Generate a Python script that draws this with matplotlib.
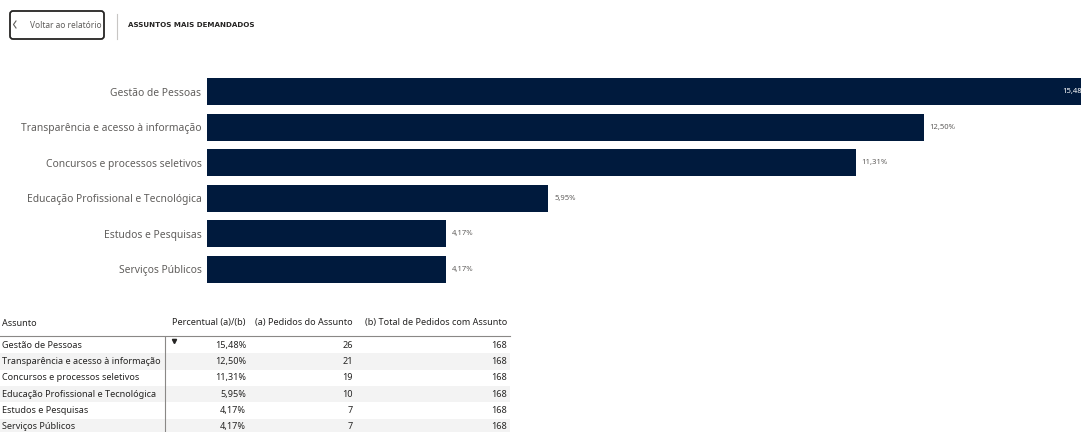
import matplotlib.pyplot as plt
from matplotlib.patches import FancyBboxPatch, Rectangle

plt.rcParams['font.family'] = ['Noto Sans', 'DejaVu Sans']

assuntos = ["Gestão de Pessoas", "Transparência e acesso à informação",
            "Concursos e processos seletivos", "Educação Profissional e Tecnológica",
            "Estudos e Pesquisas", "Serviços Públicos"]
percentual = [15.48, 12.50, 11.31, 5.95, 4.17, 4.17]
pedidos = [26, 21, 19, 10, 7, 7]
total = [168, 168, 168, 168, 168, 168]
col_headers = ["Assunto", "Percentual (a)/(b)", "(a) Pedidos do Assunto",
               "(b) Total de Pedidos com Assunto"]

bar_color = "#001A3D"
label_color = "#605E5C"

W, H = 1081, 432
fig = plt.figure(figsize=(W / 100, H / 100), dpi=100)

# bar chart
ax = fig.add_axes([207 / W, 1 - 287 / H, (W - 207) / W, (287 - 74) / H])
ypos = list(range(len(assuntos)))
ax.barh(ypos, percentual, height=0.76, color=bar_color)
ax.set_xlim(0, (W - 207) / 57.36)
ax.set_ylim(len(assuntos) - 0.5, -0.5)
ax.set_yticks(ypos)
ax.set_yticklabels(assuntos, fontsize=7.4, color=label_color)
ax.tick_params(axis='y', length=0, pad=4)
ax.set_xticks([])
for s in ax.spines.values():
    s.set_visible(False)
for i, v in enumerate(percentual):
    txt = f"{v:.2f}%".replace(".", ",")
    if i == 0:
        # label sits inside the bar end, which runs past the visible area
        ax.text(v - 0.12, i, txt, ha='right', va='center', fontsize=5.5,
                color='white', clip_on=False)
    else:
        ax.text(v + 0.1, i, txt, ha='left', va='center', fontsize=5.5,
                color=label_color)

# overlay in pixel coords for header + table
ov = fig.add_axes([0, 0, 1, 1], facecolor='none')
ov.set_xlim(0, W)
ov.set_ylim(H, 0)
ov.axis('off')

ov.add_patch(FancyBboxPatch((10, 11), 94, 28, boxstyle="round,pad=0,rounding_size=3",
                            fill=False, edgecolor="#252423", linewidth=1.3))
ov.plot([16, 13.5, 16], [21, 24.5, 28], color="#605E5C", linewidth=0.8)
ov.text(30, 25, "Voltar ao relatório", fontsize=6.0, color="#605E5C", va='center')
ov.plot([117, 117], [14, 39], color="#C8C6C4", linewidth=0.8)
ov.text(128, 25, "ASSUNTOS MAIS DEMANDADOS", fontsize=5.1, fontweight='bold',
        family='DejaVu Sans', color="#252423", va='center')

# table
row_h = 16.3
top = 337
for i in range(len(assuntos)):
    if i % 2 == 1:
        ov.add_patch(Rectangle((0, top + i * row_h), 510, row_h,
                               facecolor="#F3F3F3", edgecolor='none'))
tc = "#252423"
fs = 6.55
ov.text(2, 323, col_headers[0], fontsize=fs, color=tc, va='center')
ov.text(246, 323, col_headers[1], fontsize=fs, color=tc, va='center', ha='right')
ov.text(353, 323, col_headers[2], fontsize=fs, color=tc, va='center', ha='right')
ov.text(507, 323, col_headers[3], fontsize=fs, color=tc, va='center', ha='right')
ov.plot([0, 510], [336, 336], color="#8A8886", linewidth=0.8)
ov.plot([165, 165], [337, 432], color="#8A8886", linewidth=0.8)
ov.plot([174], [340.5], marker='v', markersize=3, color=tc)
for i in range(len(assuntos)):
    y = top + i * row_h + row_h / 2
    ov.text(2, y, assuntos[i], fontsize=fs, color=tc, va='center')
    ov.text(246, y, f"{percentual[i]:.2f}%".replace(".", ","), fontsize=fs,
            color=tc, va='center', ha='right')
    ov.text(353, y, str(pedidos[i]), fontsize=fs, color=tc, va='center', ha='right')
    ov.text(507, y, str(total[i]), fontsize=fs, color=tc, va='center', ha='right')

fig.savefig("out.png", dpi=100)
